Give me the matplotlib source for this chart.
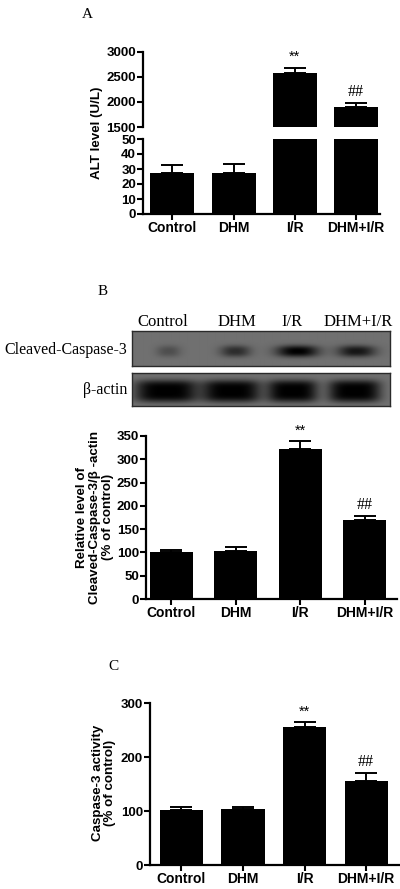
import numpy as np
import matplotlib
matplotlib.use("Agg")
import matplotlib.pyplot as plt

# data
groups = ["Control", "DHM", "I/R", "DHM+I/R"]

alt_mean = [27.5, 27.5, 2580, 1900]
alt_err = [5.0, 6.0, 100, 80]

cc3_mean = [101, 104, 322, 170]
cc3_err = [4, 7, 18, 9]

act_mean = [101, 103, 256, 155]
act_err = [6, 4, 9, 15]

# relative band darkness on the blot (0..1)
cleaved_band = [0.3, 0.6, 1.0, 0.8]
actin_band = [1.0, 1.0, 1.0, 1.0]

blot_labels = ["Cleaved-Caspase-3", "\u03b2-actin"]

W, H = 400, 889
fig = plt.figure(figsize=(W / 100, H / 100), dpi=100)

sans = ["Liberation Sans", "DejaVu Sans"]
serif = ["Liberation Serif", "DejaVu Serif"]


def px_axes(x0, y0, x1, y1):
    return fig.add_axes([x0 / W, 1 - y1 / H, (x1 - x0) / W, (y1 - y0) / H])


def style(ax, bottom=True):
    for s in ["top", "right"]:
        ax.spines[s].set_visible(False)
    ax.spines["left"].set_linewidth(1.6)
    ax.spines["bottom"].set_linewidth(1.6)
    if not bottom:
        ax.spines["bottom"].set_visible(False)
    ax.tick_params(axis="both", direction="out", length=4, width=1.5, pad=1)
    for lab in ax.get_yticklabels():
        lab.set_fontfamily(sans)
        lab.set_fontweight("bold")
        lab.set_fontsize(9.5)


def bars(ax, x, means, errs, width):
    ax.bar(x, means, width=width, color="black", zorder=2)
    ax.errorbar(x, means, yerr=[[0] * len(errs), errs], fmt="none",
                ecolor="black", elinewidth=1.4, capsize=8, capthick=1.4, zorder=1)


def xlabels(ax, x):
    ax.set_xticks(x)
    ax.set_xticklabels(groups, fontfamily=sans, fontweight="bold", fontsize=10)


x = np.arange(len(groups))

# ---------------- panel A (broken axis) ----------------
fig.text(87 / W, 1 - 14 / H, "A", fontfamily=serif, fontsize=11, ha="center", va="center")

axA_top = px_axes(143, 52, 380, 127)
axA_bot = px_axes(143, 139, 380, 214)
for ax in (axA_top, axA_bot):
    bars(ax, x, alt_mean, alt_err, 0.72)
    ax.set_xlim(-0.48, 3.39)
axA_top.set_ylim(1500, 3000)
axA_top.set_yticks([1500, 2000, 2500, 3000])
axA_top.set_xticks([])
axA_bot.set_ylim(0, 50)
axA_bot.set_yticks([0, 10, 20, 30, 40, 50])
xlabels(axA_bot, x)
style(axA_top, bottom=False)
style(axA_bot)
axA_top.text(2, alt_mean[2] + alt_err[2] + 80, "**", ha="center", va="bottom",
             fontfamily=sans, fontsize=10.5)
axA_top.text(3, alt_mean[3] + alt_err[3] + 60, "##", ha="center", va="bottom",
             fontfamily=serif, fontsize=11.5)
fig.text(97 / W, 1 - 133 / H, "ALT level (U/L)", rotation=90, ha="center", va="center",
         fontfamily=sans, fontweight="bold", fontsize=9.6)

# ---------------- panel B blot ----------------
fig.text(103 / W, 1 - 292 / H, "B", fontfamily=serif, fontsize=11, ha="center", va="center")
lane_x = [163, 237, 292, 358]
for lx, g in zip(lane_x, groups):
    fig.text(lx / W, 1 - 322 / H, g, fontfamily=serif, fontsize=12, ha="center", va="center")


def blot(ax, strengths, centres, half_w, half_h, yc, bg, power):
    nx, ny = 258, 35
    xx = np.linspace(132, 390, nx)
    yy = np.linspace(0, 1, ny)
    img = np.full((ny, nx), bg)
    for c, s, hw in zip(centres, strengths, half_w):
        prof_x = np.exp(-np.abs((xx - c) / hw) ** power)
        prof_y = np.exp(-np.abs((yy - yc) / half_h) ** power)
        img -= bg * s * np.outer(prof_y, prof_x)
    img = np.clip(img, 0, 1)
    ax.imshow(img, cmap="gray", vmin=0, vmax=1, aspect="auto", interpolation="bilinear")
    ax.set_xticks([])
    ax.set_yticks([])
    for s in ax.spines.values():
        s.set_linewidth(1.0)
        s.set_color("#2a2a2a")


ax_b1 = px_axes(132, 331, 390, 366)
blot(ax_b1, cleaved_band, [168, 235, 297, 356], [12, 15, 21, 19], 0.17, 0.58, 0.44, 2.5)
ax_b2 = px_axes(132, 373, 390, 406)
blot(ax_b2, actin_band, [166, 231, 292, 354], [31, 29, 25, 26], 0.34, 0.55, 0.44, 4)
fig.text(127 / W, 1 - 350 / H, blot_labels[0], fontfamily=serif, fontsize=11.5,
         ha="right", va="center")
fig.text(127 / W, 1 - 390 / H, blot_labels[1], fontfamily=serif, fontsize=11.5,
         ha="right", va="center")

# ---------------- panel B chart ----------------
axB = px_axes(146, 436, 397, 599)
bars(axB, x, cc3_mean, cc3_err, 0.67)
axB.set_xlim(-0.395, 3.5)
axB.set_ylim(0, 350)
axB.set_yticks(np.arange(0, 351, 50))
xlabels(axB, x)
style(axB)
axB.text(2, cc3_mean[2] + cc3_err[2] + 6, "**", ha="center", va="bottom",
         fontfamily=sans, fontsize=10.5)
axB.text(3, cc3_mean[3] + cc3_err[3] + 6, "##", ha="center", va="bottom",
         fontfamily=serif, fontsize=11.5)
fig.text(95 / W, 1 - 517 / H, "Relative level of\nCleaved-Caspase-3/\u03b2 -actin\n(% of control)",
         rotation=90, ha="center", va="center", multialignment="center",
         fontfamily=sans, fontweight="bold", fontsize=9.6, linespacing=1.1)

# ---------------- panel C ----------------
fig.text(113 / W, 1 - 667 / H, "C", fontfamily=serif, fontsize=11, ha="center", va="center")
axC = px_axes(150, 703, 400, 865)
bars(axC, x, act_mean, act_err, 0.7)
axC.set_xlim(-0.51, 3.55)
axC.set_ylim(0, 300)
axC.set_yticks([0, 100, 200, 300])
xlabels(axC, x)
style(axC)
axC.text(2, act_mean[2] + act_err[2] + 6, "**", ha="center", va="bottom",
         fontfamily=sans, fontsize=10.5)
axC.text(3, act_mean[3] + act_err[3] + 6, "##", ha="center", va="bottom",
         fontfamily=serif, fontsize=11.5)
fig.text(104 / W, 1 - 783 / H, "Caspase-3 activity\n(% of control)",
         rotation=90, ha="center", va="center", multialignment="center",
         fontfamily=sans, fontweight="bold", fontsize=9.6, linespacing=1.1)

fig.savefig("out.png", dpi=100)
